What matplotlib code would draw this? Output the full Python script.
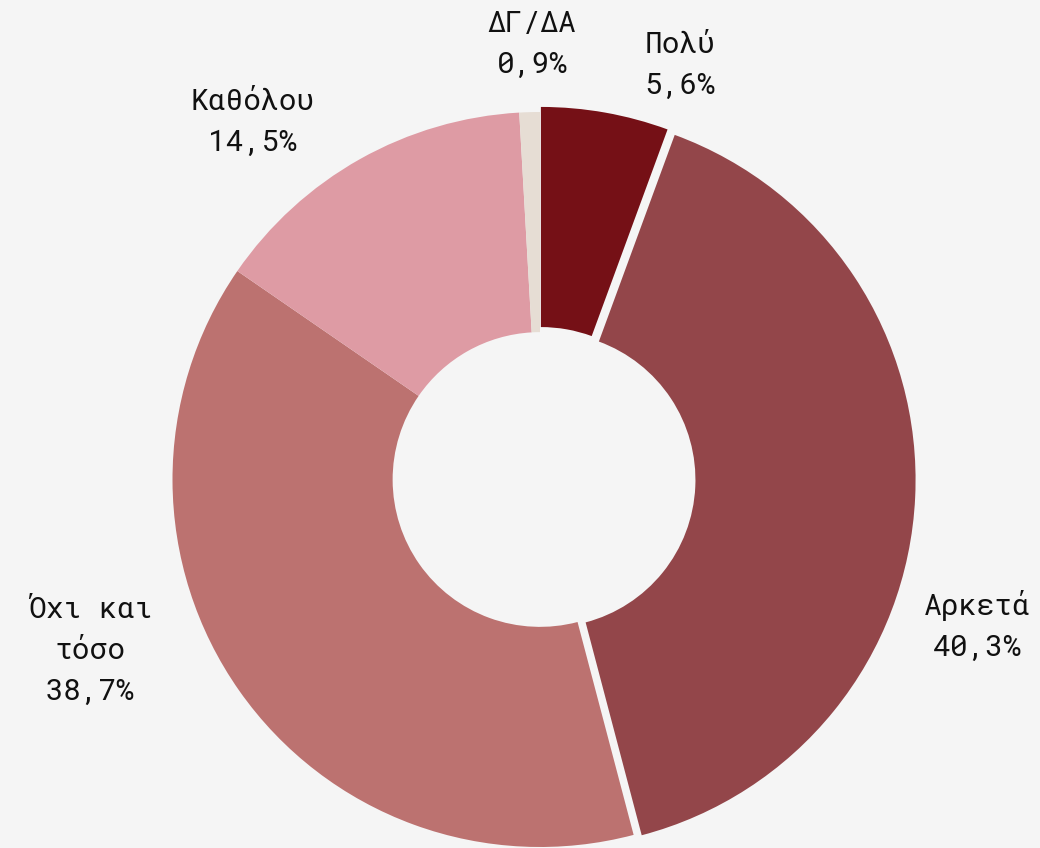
import numpy as np
import matplotlib.pyplot as plt

plt.rcParams['font.family'] = ['Roboto Mono', 'DejaVu Sans Mono', 'DejaVu Sans']

labels = ['Πολύ', 'Αρκετά', 'Όχι και\nτόσο', 'Καθόλου', 'ΔΓ/ΔΑ']
values = [5.6, 40.3, 38.7, 14.5, 0.9]
colors = ['#751016', '#93464a', '#bc7270', '#de9ba4', '#e6ddd4']
explode = [0.014, 0.022, 0, 0, 0]

# label placement: (angle in degrees, distance in radii)
label_pos = [(71.3, 1.189), (-18.5, 1.254), (200.9, 1.31), (128.8, 1.248), (91.05, 1.184)]

bg = '#f5f5f5'
fig = plt.figure(figsize=(10.4, 8.48), dpi=100, facecolor=bg)
ax = fig.add_axes([0, 0, 1, 1])
ax.set_facecolor(bg)

ax.pie(values, colors=colors, startangle=90, counterclock=False,
       explode=explode, radius=1,
       wedgeprops=dict(width=0.599, edgecolor='none', antialiased=True))

for lab, v, (ang, d) in zip(labels, values, label_pos):
    t = np.deg2rad(ang)
    txt = lab + '\n' + f'{v:.1f}'.replace('.', ',') + '%'
    ax.text(d * np.cos(t), d * np.sin(t), txt, ha='center', va='center',
            fontsize=21.3, color='#111111', linespacing=1.58)

# centre of the ring in pixels and its radius
cx, cy, R = 540.0, 479.5, 367.5
ax.set_xlim(-cx / R, (1040 - cx) / R)
ax.set_ylim(-(848 - cy) / R, cy / R)
ax.set_aspect('equal')
ax.axis('off')

plt.savefig('out.png', dpi=100, facecolor=bg)
